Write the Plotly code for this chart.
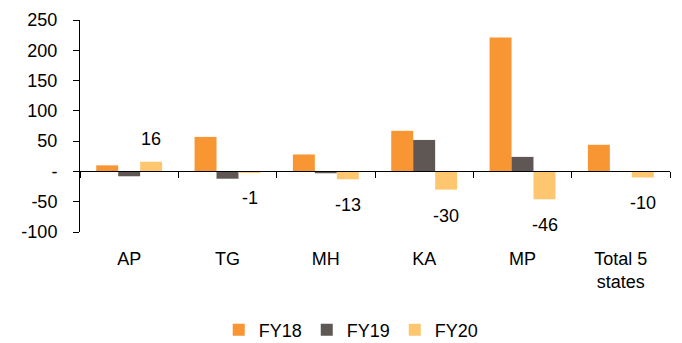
import plotly.graph_objects as go

# Categories and series values
states = ["AP", "TG", "MH", "KA", "MP", "Total 5<br>states"]
fy18 = [10, 57, 28, 67, 221, 44]
fy19 = [-8, -12, -3, 52, 24, 0]
fy20 = [16, -1, -13, -30, -46, -10]

y_ticks = [250, 200, 150, 100, 50, 0, -50, -100]
y_tick_text = ["250", "200", "150", "100", "50", "-", "-50", "-100"]

FONT = "Liberation Sans, Arial, sans-serif"
colors = {"FY18": "#F79633", "FY19": "#5F5753", "FY20": "#FEC76F"}

fig = go.Figure()
for name, vals in (("FY18", fy18), ("FY19", fy19), ("FY20", fy20)):
    fig.add_trace(go.Bar(x=states, y=vals, name=name,
                         marker=dict(color=colors[name], line=dict(width=0))))

# Axis line drawn through zero with category boundary ticks
fig.add_trace(go.Scatter(x=states, y=[None] * len(states), xaxis="x2",
                         showlegend=False, hoverinfo="skip"))

# FY20 value labels
for s, v in zip(states, fy20):
    fig.add_annotation(x=s, y=v, text=str(v), showarrow=False,
                       xshift=22, yshift=23 if v > 0 else -26,
                       font=dict(family=FONT, size=18, color="#000"))

ymin, ymax = -100, 250
fig.update_layout(
    width=682, height=343,
    margin=dict(l=80, r=12, t=20, b=111, autoexpand=False),
    paper_bgcolor="white", plot_bgcolor="white",
    barmode="group", bargap=0.33, bargroupgap=0,
    font=dict(family=FONT, size=18, color="#000"),
    xaxis=dict(type="category", categoryarray=states, range=[-0.5, 5.5],
               showline=False, ticks="", showgrid=False, zeroline=False,
               ticklabelstandoff=14, tickfont=dict(size=18)),
    xaxis2=dict(type="category", categoryarray=states, range=[-0.5, 5.5],
                overlaying="x", anchor="free",
                position=(0 - ymin) / (ymax - ymin),
                showline=True, linecolor="#000", linewidth=1,
                ticks="outside", tickson="boundaries", ticklen=6,
                tickcolor="#000", showticklabels=False, showgrid=False,
                zeroline=False),
    yaxis=dict(range=[ymin, ymax], tickvals=y_ticks, ticktext=y_tick_text,
               showline=True, linecolor="#000", linewidth=1,
               ticks="outside", ticklen=6, tickcolor="#000",
               showgrid=False, zeroline=False, ticklabelstandoff=12,
               tickfont=dict(size=18)),
    legend=dict(orientation="h", x=0.515, xanchor="center", xref="container",
                y=0.038, yanchor="middle", yref="container",
                font=dict(size=18), itemwidth=30, traceorder="normal"),
    showlegend=True,
)

fig.write_html("out.html")
